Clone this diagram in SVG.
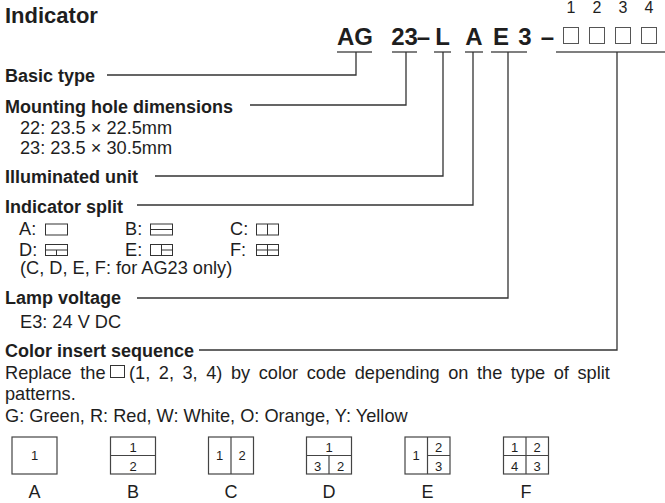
<svg xmlns="http://www.w3.org/2000/svg" width="665" height="503" viewBox="0 0 665 503">
<style>
text{font-family:"Liberation Sans",Arial,Helvetica,sans-serif;fill:#1e1e1e}
.title{font-size:22px;font-weight:bold}
.h{font-size:18px;font-weight:bold}
.r{font-size:18.2px}
.c{font-size:24px;font-weight:bold}
.d{font-size:16px}
.n{font-size:13px;text-anchor:middle}
.lab{font-size:18px;text-anchor:middle}
.mid{text-anchor:middle}
.j{word-spacing:3.5px}
.ln{stroke:#333;stroke-width:1.3;fill:none}
.ul{stroke:#555;stroke-width:1.6;fill:none}
.bx{fill:none;stroke:#555;stroke-width:1}
.ic{fill:none;stroke:#333;stroke-width:1}
.pb{fill:none;stroke:#444;stroke-width:1.2}
</style>
<rect width="665" height="503" fill="#fff"/>

<g id="title"><text class="title" x="5" y="23">Indicator</text></g>

<g id="code">
  <text class="c mid" x="355" y="45">AG</text>
  <text class="c mid" x="404.5" y="45">23</text>
  <text class="c mid" x="423.5" y="45">–</text>
  <text class="c mid" x="442.5" y="45">L</text>
  <text class="c mid" x="474" y="45">A</text>
  <text class="c mid" x="501" y="45">E</text>
  <text class="c mid" x="525" y="45">3</text>
  <text class="c mid" x="547.5" y="45">–</text>
  <rect class="bx" x="563.5" y="27.5" width="15" height="16"/>
  <rect class="bx" x="589.5" y="27.5" width="15" height="16"/>
  <rect class="bx" x="615.5" y="27.5" width="15" height="16"/>
  <rect class="bx" x="641.5" y="27.5" width="15" height="16"/>
  <text class="d mid" x="571" y="12.5">1</text>
  <text class="d mid" x="597" y="12.5">2</text>
  <text class="d mid" x="623" y="12.5">3</text>
  <text class="d mid" x="649" y="12.5">4</text>
</g>

<g id="connectors">
  <path class="ul" d="M337 52H372M392 52H417M434 52H451M465 52H483M491 52H527M556 52H665"/>
  <path class="ln" d="M356 52V75H107"/>
  <path class="ln" d="M406 52V105H250"/>
  <path class="ln" d="M443 52V176H155"/>
  <path class="ln" d="M473 52V205H137"/>
  <path class="ln" d="M508 52V298H137"/>
  <path class="ln" d="M617 52V350H199"/>
</g>

<g id="basic-type"><text class="h" x="5" y="81.5">Basic type</text></g>

<g id="mounting">
  <text class="h" x="5" y="112.5">Mounting hole dimensions</text>
  <text class="r" x="20" y="134">22: 23.5 × 22.5mm</text>
  <text class="r" x="20" y="154">23: 23.5 × 30.5mm</text>
</g>

<g id="illuminated"><text class="h" x="5" y="182.5">Illuminated unit</text></g>

<g id="split">
  <text class="h" x="5" y="213">Indicator split</text>
  <text class="r" x="19" y="235">A:</text>
  <text class="r" x="125" y="235">B:</text>
  <text class="r" x="230" y="235">C:</text>
  <text class="r" x="19" y="255.5">D:</text>
  <text class="r" x="125" y="255.5">E:</text>
  <text class="r" x="230" y="255.5">F:</text>
  <rect class="ic" x="45.5" y="224" width="22" height="11"/>
  <rect class="ic" x="150.5" y="224" width="22" height="11"/>
  <path class="ic" d="M150.5 229.5H172.5"/>
  <rect class="ic" x="256.5" y="224" width="22" height="11"/>
  <path class="ic" d="M267.5 224V235"/>
  <rect class="ic" x="45.5" y="244.5" width="22" height="11"/>
  <path class="ic" d="M45.5 250H67.5M56.5 250V255.5"/>
  <rect class="ic" x="150.5" y="244.5" width="22" height="11"/>
  <path class="ic" d="M161.5 244.5V255.5M161.5 250H172.5"/>
  <rect class="ic" x="256.5" y="244.5" width="22" height="11"/>
  <path class="ic" d="M256.5 250H278.5M267.5 244.5V255.5"/>
  <text class="r" x="20" y="274">(C, D, E, F: for AG23 only)</text>
</g>

<g id="lamp">
  <text class="h" x="5" y="304">Lamp voltage</text>
  <text class="r" x="20" y="328">E3: 24 V DC</text>
</g>

<g id="color">
  <text class="h" x="5" y="357">Color insert sequence</text>
  <text class="r j" x="5" y="378.5">Replace the</text>
  <rect class="ic" x="110.5" y="365.5" width="14" height="12"/>
  <text class="r j" x="129" y="378.5">(1, 2, 3, 4) by color code depending on the type of split</text>
  <text class="r" x="5" y="400">patterns.</text>
  <text class="r" x="5" y="421.5">G: Green, R: Red, W: White, O: Orange, Y: Yellow</text>
</g>

<g id="pattern-a">
  <rect class="pb" x="12" y="437" width="45" height="37"/>
  <text class="n" x="34.5" y="460">1</text>
  <text class="lab" x="34.5" y="498">A</text>
</g>
<g id="pattern-b">
  <rect class="pb" x="110.5" y="437" width="45" height="37"/>
  <path class="pb" d="M110.5 455.5H155.5"/>
  <text class="n" x="133" y="451.5">1</text>
  <text class="n" x="133" y="470.5">2</text>
  <text class="lab" x="133" y="498">B</text>
</g>
<g id="pattern-c">
  <rect class="pb" x="208.5" y="437" width="45" height="37"/>
  <path class="pb" d="M231 437V474"/>
  <text class="n" x="219.5" y="460">1</text>
  <text class="n" x="242" y="460">2</text>
  <text class="lab" x="231" y="498">C</text>
</g>
<g id="pattern-d">
  <rect class="pb" x="306.5" y="437" width="45" height="37"/>
  <path class="pb" d="M306.5 455.5H351.5M329 455.5V474"/>
  <text class="n" x="329" y="451.5">1</text>
  <text class="n" x="317.5" y="470.5">3</text>
  <text class="n" x="340.5" y="470.5">2</text>
  <text class="lab" x="329" y="498">D</text>
</g>
<g id="pattern-e">
  <rect class="pb" x="405" y="437" width="45" height="37"/>
  <path class="pb" d="M427.5 437V474M427.5 455.5H450"/>
  <text class="n" x="416" y="460">1</text>
  <text class="n" x="438.5" y="451.5">2</text>
  <text class="n" x="438.5" y="470.5">3</text>
  <text class="lab" x="427.5" y="498">E</text>
</g>
<g id="pattern-f">
  <rect class="pb" x="503.5" y="437" width="45" height="37"/>
  <path class="pb" d="M503.5 455.5H548.5M526 437V474"/>
  <text class="n" x="514.5" y="451.5">1</text>
  <text class="n" x="537" y="451.5">2</text>
  <text class="n" x="514.5" y="470.5">4</text>
  <text class="n" x="537" y="470.5">3</text>
  <text class="lab" x="526" y="498">F</text>
</g>
</svg>
